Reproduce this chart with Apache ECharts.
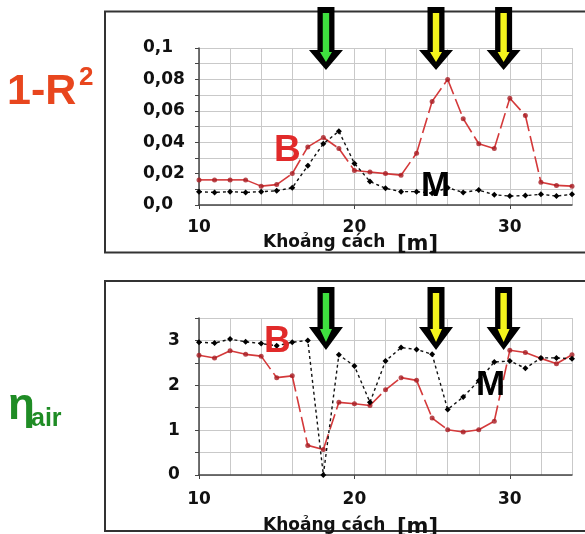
<!DOCTYPE html>
<html>
<head>
<meta charset="utf-8">
<script src="https://cdn.jsdelivr.net/npm/echarts@6/dist/echarts.min.js"></script>
<style>
  html, body { margin: 0; background: #fff; }
  #main { width: 585px; height: 534px; }
</style>
</head>
<body>
<div id="main"></div>
<script>
// khoảng cách [m]
const distances = [10, 11, 12, 13, 14, 15, 16, 17, 18, 19, 20, 21, 22, 23, 24, 25, 26, 27, 28, 29, 30, 31, 32, 33, 34];

// 1-R^2
const r2B = [0.016, 0.016, 0.016, 0.016, 0.012, 0.013, 0.020, 0.037, 0.043, 0.036, 0.022, 0.021, 0.020, 0.019, 0.033, 0.066, 0.080, 0.055, 0.039, 0.036, 0.068, 0.057, 0.0145, 0.0125, 0.012];
const r2M = [0.0085, 0.008, 0.0085, 0.008, 0.0085, 0.009, 0.011, 0.025, 0.039, 0.047, 0.0265, 0.015, 0.0106, 0.0085, 0.0085, 0.0075, 0.011, 0.008, 0.0095, 0.0065, 0.0057, 0.006, 0.0068, 0.0057, 0.0068];

// eta_air
const etaB = [2.67, 2.61, 2.77, 2.69, 2.65, 2.17, 2.21, 0.66, 0.57, 1.62, 1.59, 1.55, 1.90, 2.17, 2.11, 1.27, 1.01, 0.96, 1.01, 1.20, 2.78, 2.73, 2.60, 2.48, 2.68];
const etaM = [2.96, 2.94, 3.03, 2.97, 2.93, 2.88, 2.96, 3.00, 0.0, 2.68, 2.43, 1.62, 2.54, 2.84, 2.80, 2.69, 1.46, 1.74, 2.10, 2.52, 2.54, 2.38, 2.61, 2.61, 2.59];

const xLabels = [10, 20, 30];
const r2Labels = [0, 0.02, 0.04, 0.06, 0.08, 0.1];
const etaLabels = [0, 1, 2, 3];
const greenArrows = [18.17];
const yellowArrows = [25.25, 29.6];

const chart = echarts.init(document.getElementById('main'));

const labelFont = { fontFamily: 'DejaVu Sans', fontWeight: 'bold', fontSize: 17, color: '#111' };

// main x axis: ticks and labels at 10/20/30 only
function xAxis(gridIndex, margin) {
  return {
    type: 'value', gridIndex: gridIndex, min: 10, max: 34, interval: 2,
    axisLine: { lineStyle: { color: '#444', width: 1.5 } },
    axisTick: { customValues: xLabels, length: 4, lineStyle: { color: '#444' } },
    axisLabel: Object.assign({ customValues: xLabels, margin: margin }, labelFont),
    splitLine: { show: false },
    z: 2
  };
}

// helper x axis that only draws the grid every 2 m
function xGrid(gridIndex) {
  return {
    type: 'value', gridIndex: gridIndex, min: 10, max: 34, interval: 2,
    axisLine: { show: false }, axisTick: { show: false }, axisLabel: { show: false },
    splitLine: { show: true, lineStyle: { color: '#c9c9c9', width: 1 } },
    z: 0
  };
}

function segments(ys) {
  return distances.slice(1).map((x, i) => [distances[i], ys[i], x, ys[i + 1]]);
}

// each segment restarts its dash pattern, like the original chart
function dashedSegments(ys, gi) {
  return {
    type: 'custom', xAxisIndex: gi, yAxisIndex: gi,
    data: segments(ys),
    encode: { x: [0, 2], y: [1, 3] },
    z: 3,
    renderItem: function (params, api) {
      const a = api.coord([api.value(0), api.value(1)]);
      const b = api.coord([api.value(2), api.value(3)]);
      return {
        type: 'line',
        shape: { x1: a[0], y1: a[1], x2: b[0], y2: b[1] },
        style: { stroke: '#d4393a', lineWidth: 1.6, lineDash: [16, 5] }
      };
    }
  };
}

function bPoints(ys, gi) {
  return {
    type: 'scatter', xAxisIndex: gi, yAxisIndex: gi, z: 4,
    data: distances.map((x, i) => [x, ys[i]]),
    symbol: 'circle', symbolSize: 5,
    itemStyle: { color: '#a81c22' }
  };
}

function mLine(ys, gi) {
  return {
    type: 'line', xAxisIndex: gi, yAxisIndex: gi, z: 5,
    data: distances.map((x, i) => [x, ys[i]]),
    symbol: 'diamond', symbolSize: 6, showSymbol: true,
    itemStyle: { color: '#000' },
    lineStyle: { color: '#111', width: 1.4, type: [3, 3] }
  };
}

const option = {
  animation: false,
  grid: [
    { left: 199, top: 48, width: 373, height: 157 },
    { left: 199, top: 318, width: 373, height: 157 }
  ],
  xAxis: [xAxis(0, 14), xAxis(1, 16), xGrid(0), xGrid(1)],
  yAxis: [
    {
      type: 'value', gridIndex: 0, min: 0, max: 0.1, interval: 0.01,
      axisLine: { show: true, lineStyle: { color: '#444', width: 1.5 } },
      axisTick: { show: true, length: 4, lineStyle: { color: '#444' } },
      axisLabel: Object.assign({
        customValues: r2Labels, margin: 56, align: 'left',
        formatter: v => v === 0 ? '0,0' : String(+v.toFixed(2)).replace('.', ',')
      }, labelFont),
      splitLine: { lineStyle: { color: '#c9c9c9', width: 1 } }
    },
    {
      type: 'value', gridIndex: 1, min: 0, max: 3.5, interval: 0.5,
      axisLine: { show: true, lineStyle: { color: '#444', width: 1.5 } },
      axisTick: { show: true, length: 4, lineStyle: { color: '#444' } },
      axisLabel: Object.assign({ customValues: etaLabels, margin: 31, align: 'left' }, labelFont),
      splitLine: { lineStyle: { color: '#c9c9c9', width: 1 } }
    }
  ],
  series: [
    dashedSegments(r2B, 0), bPoints(r2B, 0), mLine(r2M, 0),
    dashedSegments(etaB, 1), bPoints(etaB, 1), mLine(etaM, 1)
  ]
};
chart.setOption(option);

function arrow(cx, y0, yh, yt, color) {
  return [
    {
      type: 'polygon', z: 50,
      shape: { points: [[cx - 8.5, y0], [cx + 8.5, y0], [cx + 8.5, yh], [cx + 17, yh], [cx, yt], [cx - 17, yh], [cx - 8.5, yh]] },
      style: { fill: '#000' }
    },
    {
      type: 'polygon', z: 51,
      shape: { points: [[cx - 3.2, y0 + 6], [cx + 3.2, y0 + 6], [cx + 3.2, yh + 2], [cx + 6, yh + 2], [cx, yt - 8], [cx - 6, yh + 2], [cx - 3.2, yh + 2]] },
      style: { fill: color }
    }
  ];
}

function txt(x, y, s, size, color, weight, family) {
  return {
    type: 'text', x: x, y: y, z: 60,
    style: {
      text: s, fill: color, fontSize: size, fontWeight: weight || 'bold',
      fontFamily: family || 'Liberation Sans', verticalAlign: 'middle', align: 'left'
    }
  };
}

let elements = [
  { type: 'rect', z: 1, shape: { x: 105, y: 11.5, width: 490, height: 241 }, style: { fill: 'none', stroke: '#333', lineWidth: 2 } },
  { type: 'rect', z: 1, shape: { x: 105, y: 281, width: 490, height: 250 }, style: { fill: 'none', stroke: '#333', lineWidth: 2 } }
];
greenArrows.forEach(function (x) {
  const px = chart.convertToPixel({ gridIndex: 0 }, [x, 0])[0];
  elements = elements.concat(arrow(px, 7, 50, 70, '#3fe03f'), arrow(px, 287, 327, 350, '#3fe03f'));
});
yellowArrows.forEach(function (x) {
  const px = chart.convertToPixel({ gridIndex: 0 }, [x, 0])[0];
  elements = elements.concat(arrow(px, 7, 50, 70, '#f4f41c'), arrow(px, 287, 327, 350, '#f4f41c'));
});

elements.push(
  txt(7, 92, '1-R', 43, '#e8461e'),
  txt(79, 78, '2', 26, '#e8461e'),
  txt(8, 407, 'η', 44, '#1f8c25'),
  txt(31, 419, 'air', 25, '#1f8c25'),
  txt(274, 151, 'B', 37, '#e12a2a'),
  txt(421, 186, 'M', 35, '#000'),
  txt(264, 342, 'B', 37, '#e12a2a'),
  txt(476, 385, 'M', 35, '#000'),
  txt(263, 243, 'Khoảng cách', 17, '#111', 'bold', 'DejaVu Sans'),
  txt(397, 245, '[m]', 21, '#111', 'bold', 'DejaVu Sans'),
  txt(263, 526, 'Khoảng cách', 17, '#111', 'bold', 'DejaVu Sans'),
  txt(397, 528, '[m]', 21, '#111', 'bold', 'DejaVu Sans')
);

chart.setOption({ graphic: { elements: elements } });
</script>
</body>
</html>
